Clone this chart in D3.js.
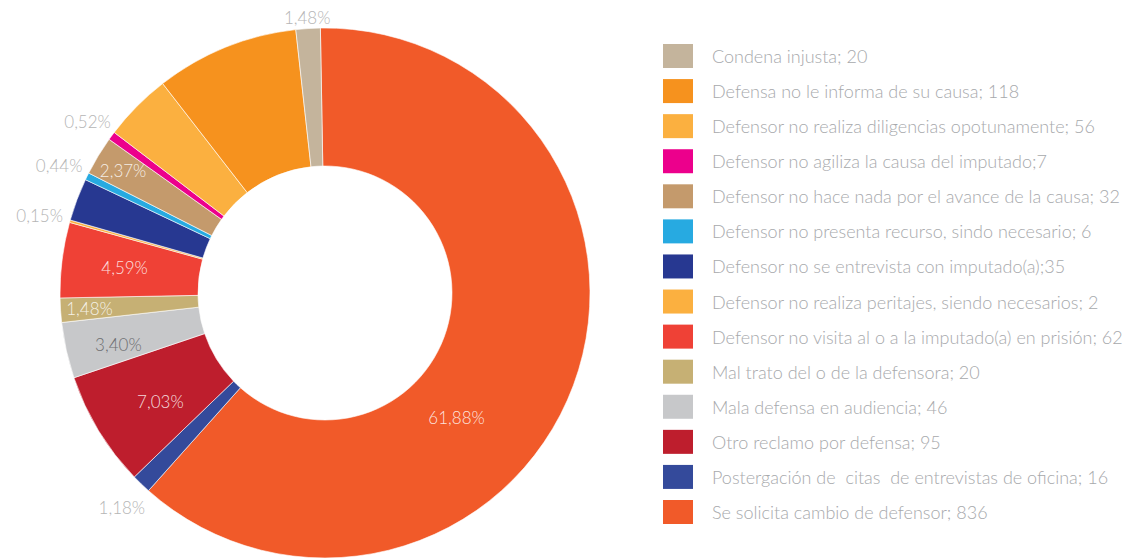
<!DOCTYPE html>
<html>
<head>
<meta charset="utf-8">
<script src="https://cdn.jsdelivr.net/npm/d3@7"></script>
<style>
  html, body { margin: 0; padding: 0; background: #ffffff; }
  svg text { font-family: Lato, "Open Sans", sans-serif; font-weight: 300; }
</style>
</head>
<body>
<svg id="chart" width="1122" height="559"></svg>
<script>
// Reclamos sobre la defensa, por tipo (orden de la leyenda)
const categories = [
  "Condena injusta",
  "Defensa no le informa de su causa",
  "Defensor no realiza diligencias opotunamente",
  "Defensor no agiliza la causa del imputado",
  "Defensor no hace nada por el avance de la causa",
  "Defensor no presenta recurso, sindo necesario",
  "Defensor no se entrevista con imputado(a)",
  "Defensor no realiza peritajes, siendo necesarios",
  "Defensor no visita al o a la imputado(a) en prisión",
  "Mal trato del o de la defensora",
  "Mala defensa en audiencia",
  "Otro reclamo por defensa",
  "Postergación de  citas  de entrevistas de oficina",
  "Se solicita cambio de defensor"
];
const values = [20, 118, 56, 7, 32, 6, 35, 2, 62, 20, 46, 95, 16, 836];
// Legend text as printed (separator varies per line)
const legendLabels = [
  "Condena injusta; 20",
  "Defensa no le informa de su causa; 118",
  "Defensor no realiza diligencias opotunamente; 56",
  "Defensor no agiliza la causa del imputado;7",
  "Defensor no hace nada por el avance de la causa; 32",
  "Defensor no presenta recurso, sindo necesario; 6",
  "Defensor no se entrevista con imputado(a);35",
  "Defensor no realiza peritajes, siendo necesarios; 2",
  "Defensor no visita al o a la imputado(a) en prisión; 62",
  "Mal trato del o de la defensora; 20",
  "Mala defensa en audiencia; 46",
  "Otro reclamo por defensa; 95",
  "Postergación de  citas  de entrevistas de oficina; 16",
  "Se solicita cambio de defensor; 836"
];
const colors = [
  "#c4b49c", "#f6921e", "#fbb040", "#ec008c", "#c49a6c", "#27aae1", "#273891",
  "#fbb040", "#ef4136", "#c6b074", "#c7c8ca", "#be1e2d", "#344a9b", "#f15a29"
];

// Label styling per slice: where the percentage sits and its colour
const hiddenLabels = new Set([
  "Defensa no le informa de su causa",
  "Defensor no realiza diligencias opotunamente",
  "Defensor no se entrevista con imputado(a)"
]);
const outsideLabels = new Set([
  "Condena injusta",
  "Defensor no agiliza la causa del imputado",
  "Defensor no presenta recurso, sindo necesario",
  "Defensor no realiza peritajes, siendo necesarios",
  "Postergación de  citas  de entrevistas de oficina"
]);
const darkLabels = new Set(["Mala defensa en audiencia"]);
const labelRadius = {
  "Mal trato del o de la defensora": 236,
  "Defensor no hace nada por el avance de la causa": 236,
  "Mala defensa en audiencia": 213,
  "Otro reclamo por defensa": 197
};
const labelAngleShift = {
  "Se solicita cambio de defensor": 23,
  "Otro reclamo por defensa": -2,
  "Mala defensa en audiencia": -1.5
};

const svg = d3.select("#chart");
const cx = 325, cy = 293, rOuter = 265, rInner = 127;
const rot = -1 * Math.PI / 180;

const rows = categories.map((c, i) => ({ cat: c, value: values[i], color: colors[i], legend: legendLabels[i] }));
const total = d3.sum(values);
const fmt = d3.format(".2f");
const pct = v => fmt(v / total * 100).replace(".", ",") + "%";

// Slices run clockwise from 12 o'clock in reverse legend order
const pie = d3.pie().sort(null).value(d => d.value).startAngle(rot).endAngle(2 * Math.PI + rot);
const arcs = pie(rows.slice().reverse());
const arc = d3.arc().innerRadius(rInner).outerRadius(rOuter);

const g = svg.append("g").attr("transform", `translate(${cx},${cy})`);
g.selectAll("path.slice")
  .data(arcs)
  .join("path")
  .attr("class", "slice")
  .attr("d", arc)
  .attr("fill", d => d.data.color)
  .attr("stroke", "#ffffff")
  .attr("stroke-width", 0.6);

// Percentage labels
const labels = arcs.filter(d => !hiddenLabels.has(d.data.cat));
labels.forEach(d => {
  const mid = (d.startAngle + d.endAngle) / 2;
  const t = g.append("text")
    .attr("font-size", 17)
    .attr("text-anchor", "middle")
    .attr("dominant-baseline", "central")
    .text(pct(d.data.value));
  if (outsideLabels.has(d.data.cat)) {
    // label box sits just outside the rim, centred on the slice's bisector
    const sx = Math.sin(mid), sy = -Math.cos(mid);
    const w = t.node().getComputedTextLength();
    const h = 16;
    const r = rOuter + 4 + 3 * Math.abs(sx) + Math.abs(sx) * w / 2 + Math.abs(sy) * h / 2;
    t.attr("x", r * sx).attr("y", r * sy + 3)
      .attr("fill", "#b5b5b5");
  } else {
    const a = mid + (labelAngleShift[d.data.cat] || 0) * Math.PI / 180;
    const r = labelRadius[d.data.cat] || (d.data.value > 500 ? 181 : 202);
    t.attr("x", r * Math.sin(a)).attr("y", -r * Math.cos(a))
      .attr("fill", darkLabels.has(d.data.cat) ? "#6d6e71" : "#ffffff")
      .attr("fill-opacity", darkLabels.has(d.data.cat) ? 1 : 0.85);
  }
});

// Legend
const legendY = d3.scalePoint().domain(categories).range([56, 512]);
const legend = svg.append("g");
const item = legend.selectAll("g.item")
  .data(rows)
  .join("g")
  .attr("class", "item")
  .attr("transform", d => `translate(663,${legendY(d.cat)})`);
item.append("rect")
  .attr("x", 0).attr("y", -12)
  .attr("width", 30).attr("height", 24)
  .attr("fill", d => d.color);
item.append("text")
  .attr("x", 49).attr("y", 0)
  .attr("dominant-baseline", "central")
  .attr("font-size", 18)
  .attr("fill", "#a7a9ac")
  .style("white-space", "pre")
  .text(d => d.legend);
</script>
</body>
</html>
